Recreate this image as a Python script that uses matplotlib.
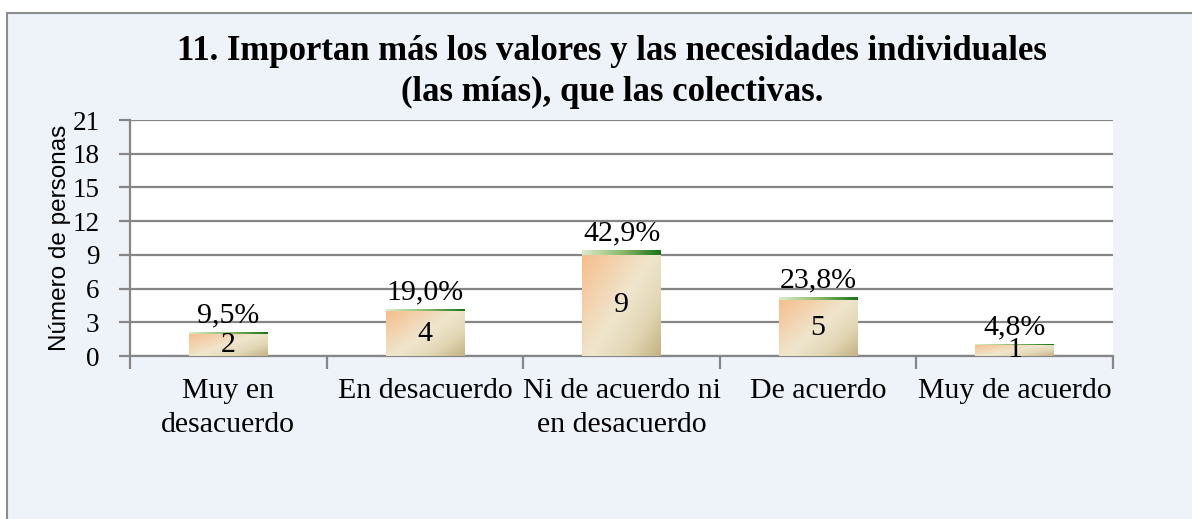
import numpy as np
import matplotlib
matplotlib.use("Agg")
import matplotlib.pyplot as plt
from matplotlib.colors import LinearSegmentedColormap
from matplotlib.patches import Rectangle

# data
categorias = ["Muy en\ndesacuerdo", "En desacuerdo", "Ni de acuerdo ni\nen desacuerdo",
              "De acuerdo", "Muy de acuerdo"]
personas = [2, 4, 9, 5, 1]
porcentajes = [9.5, 19.0, 42.9, 23.8, 4.8]
y_ticks = [0, 3, 6, 9, 12, 15, 18, 21]
titulo = "11. Importan más los valores y las necesidades individuales\n(las mías), que las colectivas."

W, H = 1192, 519
fig = plt.figure(figsize=(W / 100, H / 100), dpi=100)
fig.patch.set_facecolor("white")

# outer chart frame
frame = Rectangle((7 / W, -0.1), 1.2, 1 - 13 / H + 0.1, transform=fig.transFigure,
                  facecolor="#EEF2F9", edgecolor="#8C8C8C", linewidth=1.5, zorder=-10)
fig.patches.append(frame)

ax = fig.add_axes([130 / W, (H - 356) / H, (1113 - 130) / W, (356 - 120) / H])
ax.set_facecolor("white")

serif = "Liberation Serif"
grid_c = "#868686"
fs = 21.5

x = np.arange(len(personas))
bw = 0.40

bar_cmap = LinearSegmentedColormap.from_list(
    "bar", ["#F6BE8C", "#F3D2AE", "#EFE6CD", "#E2D6B4", "#C4B385"])
cap_cmap = LinearSegmentedColormap.from_list("cap", ["#DCEBCB", "#8DBA6A", "#1B741B"])

gx, gy = np.meshgrid(np.linspace(0, 1, 60), np.linspace(0, 1, 60))
bar_grad = (gx * 0.55 + gy * 0.45)
cap_grad = gx

caps = [p / 100 for p in porcentajes]
bars = ax.bar(x, personas, width=bw, color="none", zorder=3)
tops = ax.bar(x, caps, width=bw, bottom=personas, color="none", zorder=3)

for b in bars:
    x0, y0 = b.get_x(), b.get_y()
    im = ax.imshow(bar_grad, cmap=bar_cmap, extent=(x0, x0 + b.get_width(), y0, y0 + b.get_height()),
                   origin="upper", aspect="auto", zorder=3, interpolation="bilinear")
    im.set_clip_path(b)
for b in tops:
    x0, y0 = b.get_x(), b.get_y()
    im = ax.imshow(cap_grad, cmap=cap_cmap, extent=(x0, x0 + b.get_width(), y0, y0 + b.get_height()),
                   origin="upper", aspect="auto", zorder=3, interpolation="bilinear")
    im.set_clip_path(b)

for i in range(len(personas)):
    ax.text(x[i], personas[i] / 2, str(personas[i]), ha="center", va="center",
            fontsize=fs, family=serif, zorder=5)
    ax.text(x[i], personas[i] + caps[i] + 0.35, f"{porcentajes[i]:.1f}%".replace(".", ","),
            ha="center", va="bottom", fontsize=fs, family=serif, zorder=5)

ax.set_xlim(-0.5, len(personas) - 0.5)
ax.set_ylim(0, 21)
ax.set_yticks(y_ticks)
ax.set_yticklabels([str(t) for t in y_ticks], fontsize=19.5, family=serif)
ax.yaxis.grid(True, color=grid_c, linewidth=1.6, zorder=1)
ax.set_axisbelow(True)

ax.set_xticks(np.arange(-0.5, len(personas), 1.0))
ax.set_xticklabels([])
ax.set_xticks(x, minor=True)
ax.set_xticklabels(categorias, minor=True, fontsize=fs, family=serif, linespacing=1.4)
ax.tick_params(axis="x", which="minor", length=0, pad=16)
ax.tick_params(axis="x", which="major", length=9, width=1.6, color=grid_c)
ax.tick_params(axis="y", length=8, width=1.6, color=grid_c, pad=14)

for s in ["top", "right"]:
    ax.spines[s].set_visible(False)
for s in ["left", "bottom"]:
    ax.spines[s].set_color(grid_c)
    ax.spines[s].set_linewidth(1.6)

fig.text(60 / W, 1 - 238 / H, "Número de personas", rotation=90, ha="center", va="center",
         fontsize=17.5, family="Liberation Sans")
fig.text(612 / W, 1 - 35 / H, titulo, ha="center", va="top", fontsize=25,
         fontweight="bold", family=serif, linespacing=1.3)

fig.savefig("out.png", dpi=100)
